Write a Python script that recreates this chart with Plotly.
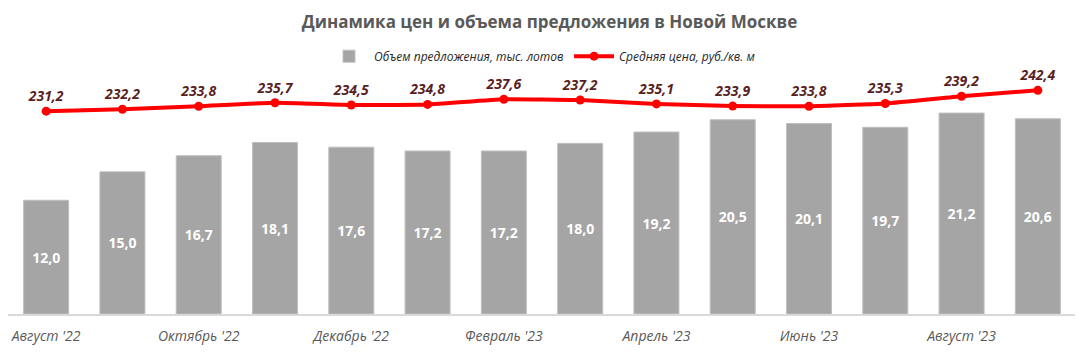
import plotly.graph_objects as go

months = ["Август '22", "Сентябрь '22", "Октябрь '22", "Ноябрь '22", "Декабрь '22",
          "Январь '23", "Февраль '23", "Март '23", "Апрель '23", "Май '23",
          "Июнь '23", "Июль '23", "Август '23", "Сентябрь '23"]
volume = [12.0, 15.0, 16.7, 18.1, 17.6, 17.2, 17.2, 18.0, 19.2, 20.5, 20.1, 19.7, 21.2, 20.6]
price = [231.2, 232.2, 233.8, 235.7, 234.5, 234.8, 237.6, 237.2, 235.1, 233.9, 233.8, 235.3, 239.2, 242.4]
tick_months = months[::2]

def fmt(v):
    return f"{v:.1f}".replace(".", ",")

FONT = "Open Sans"

fig = go.Figure()
fig.add_trace(go.Bar(
    x=months, y=volume, name="Объем предложения, тыс. лотов",
    marker=dict(color="#a5a5a5", line=dict(color="#bfbfbf", width=1)),
    text=[fmt(v) for v in volume], textposition="inside", insidetextanchor="middle",
    textfont=dict(family=FONT, size=14, color="white", weight="bold"),
    textangle=0,
))
fig.add_trace(go.Scatter(
    x=months, y=price, name="Средняя цена, руб./кв. м", yaxis="y2",
    mode="lines+markers+text",
    line=dict(color="#ff0000", width=4, shape="spline", smoothing=0.4),
    marker=dict(color="#ff0000", size=9),
    text=[fmt(v) for v in price], textposition="top center",
    textfont=dict(family=FONT, size=14, color="#5a1f1f", weight="bold", style="italic"),
    cliponaxis=False,
))

fig.update_layout(
    width=1083, height=359,
    margin=dict(l=0, r=15, t=52, b=53, autoexpand=False),
    paper_bgcolor="white", plot_bgcolor="white",
    title=dict(text="Динамика цен и объема предложения в Новой Москве",
               x=0.5, xanchor="center", y=0.962, yanchor="middle",
               font=dict(family=FONT, size=17, color="#595959", weight="bold")),
    bargap=0.41,
    showlegend=True,
    legend=dict(orientation="h", x=0.5, xanchor="center", y=1.015, yanchor="middle",
                font=dict(family=FONT, size=12, color="#262626", style="italic"),
                itemwidth=40, tracegroupgap=0),
    xaxis=dict(type="category", range=[-0.5, 13.5], tickmode="array",
               tickvals=tick_months, ticktext=tick_months,
               showgrid=False, showline=True, linecolor="#d9d9d9", linewidth=1.5,
               ticks="", ticklabelstandoff=8,
               tickfont=dict(family=FONT, size=14, color="#595959", style="italic")),
    yaxis=dict(range=[0, 26.8], visible=False, showgrid=False),
    yaxis2=dict(range=[122.1, 258.7], overlaying="y", side="right", visible=False, showgrid=False),
)

fig.write_html("out.html")
